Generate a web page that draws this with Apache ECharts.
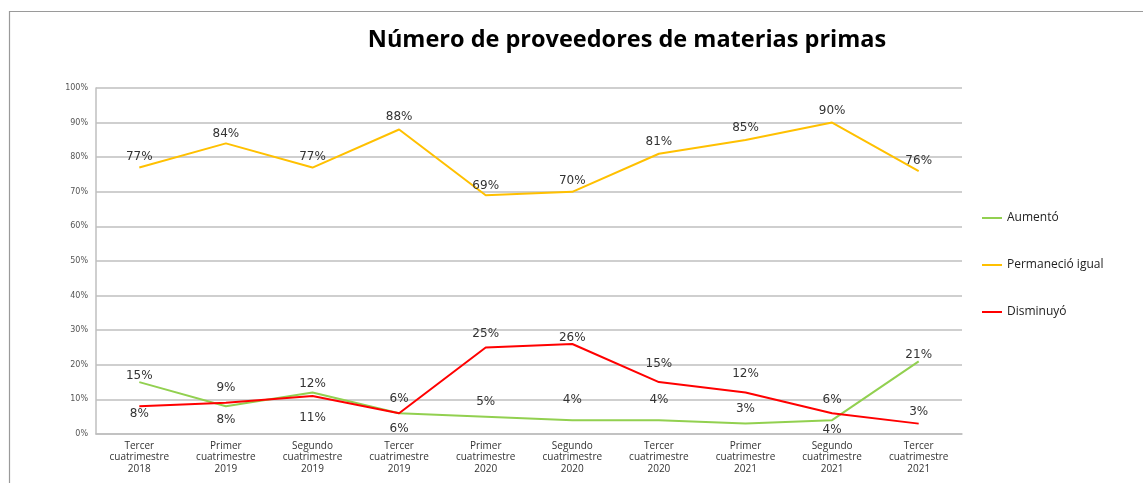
<!DOCTYPE html>
<html>
<head>
<meta charset="utf-8">
<script src="https://cdn.jsdelivr.net/npm/echarts@6/dist/echarts.min.js"></script>
<style>html,body{margin:0;padding:0;background:#fff}#c{width:1143px;height:483px}</style>
</head>
<body>
<div id="c"></div>
<script>
const categories = [
  "Tercer\ncuatrimestre\n2018", "Primer\ncuatrimestre\n2019", "Segundo\ncuatrimestre\n2019",
  "Tercer\ncuatrimestre\n2019", "Primer\ncuatrimestre\n2020", "Segundo\ncuatrimestre\n2020",
  "Tercer\ncuatrimestre\n2020", "Primer\ncuatrimestre\n2021", "Segundo\ncuatrimestre\n2021",
  "Tercer\ncuatrimestre\n2021"
];
const aumento = [15, 8, 12, 6, 5, 4, 4, 3, 4, 21];
const permanecio = [77, 84, 77, 88, 69, 70, 81, 85, 90, 76];
const disminuyo = [8, 9, 11, 6, 25, 26, 15, 12, 6, 3];
const yTicks = [0, 10, 20, 30, 40, 50, 60, 70, 80, 90, 100];

// label placement (style only): positive = above, negative = below, value = distance
const aumentoLabelDist = [0, -8, 3, 8, 9, 14, 14, 9, -4, 0];
const permanecioLabelDist = [5, 3, 5, 7, 3, 5, 6, 6, 6, 4];
const disminuyoLabelDist = [-2, 9, -16, -10, 8, 0, 12, 13, 7, 6];

function buildData(values, dists) {
  return values.map((v, i) => ({
    value: v,
    label: { show: true, position: dists[i] >= 0 ? 'top' : 'bottom', distance: Math.abs(dists[i]) }
  }));
}

const labelStyle = { show: true, formatter: '{c}%', fontFamily: 'DejaVu Sans', fontSize: 12, color: '#333333' };

const chart = echarts.init(document.getElementById('c'));
chart.setOption({
  animation: false,
  backgroundColor: '#ffffff',
  graphic: [{
    type: 'rect', shape: { x: 9.5, y: 11.5, width: 1300, height: 600 },
    style: { fill: 'none', stroke: '#9a9a9a', lineWidth: 1.2 }, silent: true
  }],
  title: {
    text: 'Número de proveedores de materias primas',
    left: 622, top: 23, textAlign: 'center',
    textStyle: { fontFamily: 'Open Sans', fontWeight: 'bold', fontSize: 23.5, color: '#000000' }
  },
  legend: {
    orient: 'vertical', left: 982, top: 212, itemGap: 35, padding: 0,
    itemWidth: 20, itemHeight: 2, icon: 'rect',
    textStyle: { fontFamily: 'Open Sans', fontSize: 12, color: '#222222' },
    data: ['Aumentó', 'Permaneció igual', 'Disminuyó']
  },
  grid: { left: 96, right: 181, top: 88, bottom: 49, containLabel: false },
  xAxis: {
    type: 'category', data: categories, boundaryGap: true,
    axisLine: { show: true, lineStyle: { color: '#bfbfbf', width: 1.5 } },
    axisTick: { show: false },
    axisLabel: { interval: 0, margin: 6, fontFamily: 'Open Sans', fontSize: 10, lineHeight: 11.5, color: '#333333' }
  },
  yAxis: {
    type: 'value', min: 0, max: 100, interval: 10,
    axisLine: { show: true, lineStyle: { color: '#bfbfbf', width: 1.5 } },
    axisTick: { show: false },
    splitLine: { lineStyle: { color: '#bfbfbf', width: 1.5 } },
    axisLabel: { margin: 8, fontFamily: 'DejaVu Sans', fontSize: 8, color: '#555555',
      formatter: v => (yTicks.includes(v) ? v + '%' : '') }
  },
  series: [
    { name: 'Aumentó', type: 'line', data: buildData(aumento, aumentoLabelDist),
      symbol: 'circle', symbolSize: 0.01, showSymbol: true,
      lineStyle: { color: '#92d050', width: 2 }, itemStyle: { color: '#92d050' }, label: labelStyle, z: 3 },
    { name: 'Permaneció igual', type: 'line', data: buildData(permanecio, permanecioLabelDist),
      symbol: 'circle', symbolSize: 0.01, showSymbol: true,
      lineStyle: { color: '#ffc000', width: 2 }, itemStyle: { color: '#ffc000' }, label: labelStyle, z: 3 },
    { name: 'Disminuyó', type: 'line', data: buildData(disminuyo, disminuyoLabelDist),
      symbol: 'circle', symbolSize: 0.01, showSymbol: true,
      lineStyle: { color: '#ff0000', width: 2 }, itemStyle: { color: '#ff0000' }, label: labelStyle, z: 4 }
  ]
});
</script>
</body>
</html>
